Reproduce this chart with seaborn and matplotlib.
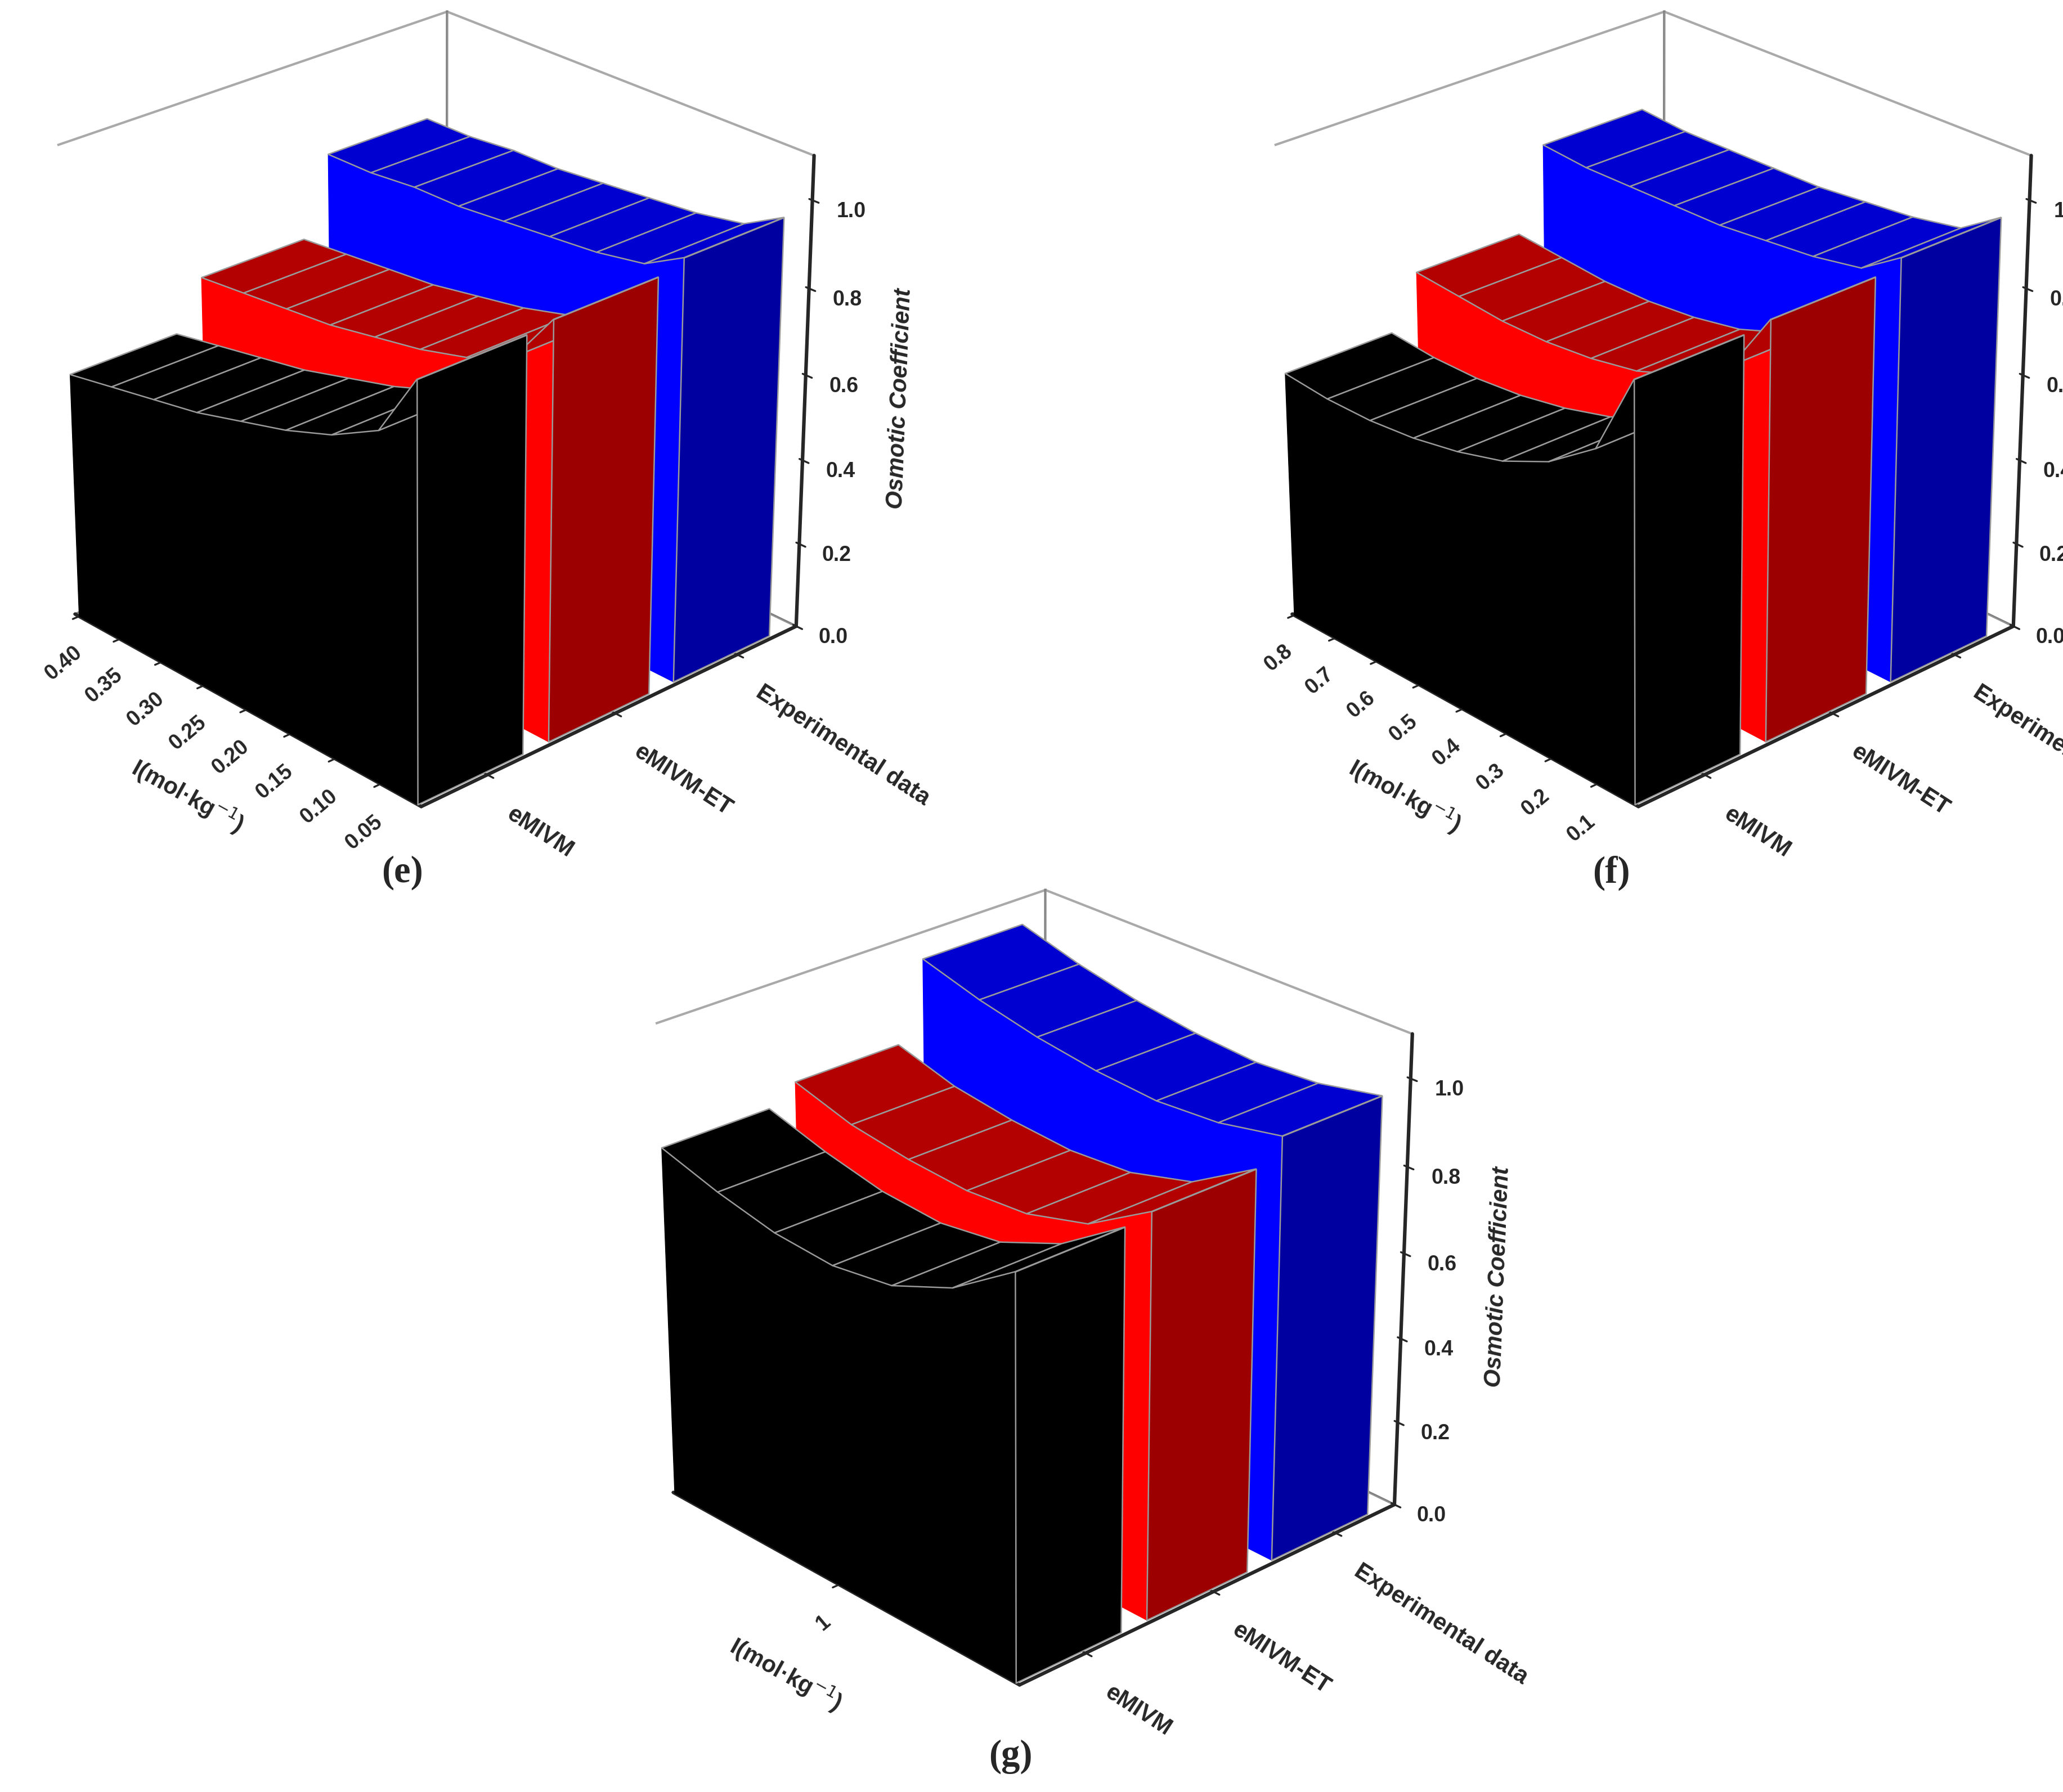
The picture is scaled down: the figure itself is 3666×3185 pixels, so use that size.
import numpy as np
import matplotlib
matplotlib.use("Agg")
import matplotlib.pyplot as plt
import seaborn as sns
from mpl_toolkits.mplot3d.art3d import Poly3DCollection

sns.set_style("white")
plt.rcParams['font.family'] = ['Liberation Sans', 'DejaVu Sans']

series = ["eMIVM", "eMIVM-ET", "Experimental data"]

I_e = [0.01, 0.05, 0.10, 0.15, 0.20, 0.25, 0.30, 0.35, 0.40]
e_emivm = [0.95, 0.80, 0.74, 0.70, 0.67, 0.64, 0.62, 0.60, 0.58]
e_et = [0.96, 0.84, 0.79, 0.76, 0.74, 0.72, 0.71, 0.70, 0.69]
e_exp = [0.98, 0.93, 0.91, 0.90, 0.89, 0.88, 0.88, 0.87, 0.87]
ticks_e = [0.05, 0.10, 0.15, 0.20, 0.25, 0.30, 0.35, 0.40]

I_f = [0.02, 0.1, 0.2, 0.3, 0.4, 0.5, 0.6, 0.7, 0.8]
f_emivm = [0.95, 0.76, 0.68, 0.63, 0.60, 0.58, 0.57, 0.57, 0.58]
f_et = [0.96, 0.82, 0.75, 0.71, 0.69, 0.68, 0.68, 0.69, 0.70]
f_exp = [0.98, 0.92, 0.90, 0.89, 0.88, 0.88, 0.88, 0.88, 0.89]
ticks_f = [0.1, 0.2, 0.3, 0.4, 0.5, 0.6, 0.7, 0.8]

I_g = [0.4, 0.6, 0.8, 1.0, 1.2, 1.4, 1.6]
g_emivm = [0.92, 0.82, 0.76, 0.74, 0.75, 0.78, 0.82]
g_et = [0.93, 0.84, 0.80, 0.79, 0.80, 0.82, 0.86]
g_exp = [0.98, 0.95, 0.94, 0.95, 0.97, 1.00, 1.04]
ticks_g = [1.0]
ticklabels_g = ["1"]

colors = {
    0: dict(side="#000000", top="#000000", end="#000000"),
    1: dict(side="#ff0000", top="#b30000", end="#9c0000"),
    2: dict(side="#0000ff", top="#0000d0", end="#0000a0"),
}

W0, W1 = -0.5, 0.3


def panel(fig, rect, I, vals, ticks, ticklabels, label, labpos):
    ax = fig.add_axes(rect, projection='3d', computed_zorder=False)
    I = np.array(I)
    for k in [2, 1, 0]:
        z = np.array(vals[k])
        y0, y1 = k + W0, k + W1
        c = colors[k]
        polys_top, polys_side = [], []
        for j in range(len(I) - 1):
            polys_top.append([(I[j], y0, z[j]), (I[j + 1], y0, z[j + 1]),
                              (I[j + 1], y1, z[j + 1]), (I[j], y1, z[j])])
            polys_side.append([(I[j], y0, 0), (I[j + 1], y0, 0),
                               (I[j + 1], y0, z[j + 1]), (I[j], y0, z[j])])
        end = [[(I[0], y0, 0), (I[0], y1, 0), (I[0], y1, z[0]), (I[0], y0, z[0])]]
        base = 10 * (3 - k)
        pc = Poly3DCollection(polys_side, facecolors=c["side"], edgecolors=c["side"], linewidths=0.3)
        pc.set_zorder(base)
        ax.add_collection3d(pc)
        pt = Poly3DCollection(polys_top, facecolors=c["top"], edgecolors="#9a9a9a", linewidths=0.6)
        pt.set_zorder(base + 1)
        ax.add_collection3d(pt)
        pe = Poly3DCollection(end, facecolors=c["end"], edgecolors="#9a9a9a", linewidths=0.6)
        pe.set_zorder(base + 2)
        ax.add_collection3d(pe)
    ax.set_xlim(max(I) + 0.005, min(I) - 0.01 * (max(I) - min(I)))
    ax.set_ylim(-0.5, 2.5)
    ax.set_zlim(0, 1.1)
    ax.view_init(elev=26, azim=-43)
    ax.set_box_aspect((1.0, 1.0, 1.0))
    for a in (ax.xaxis, ax.yaxis, ax.zaxis):
        a.pane.set_facecolor("white")
        a.pane.set_edgecolor("#555555")
        a.line.set_linewidth(1.5)
    ax.grid(False)
    try:
        ax.zaxis.set_ticks_position('upper')
        ax.zaxis.set_label_position('upper')
    except Exception:
        ax.zaxis._axinfo['juggled'] = (1, 2, 0)
    ax.set_xticks(ticks)
    ax.set_xticklabels(ticklabels, fontsize=9, fontweight='bold', rotation=40)
    ax.set_yticks([0, 1, 2])
    ax.set_yticklabels(series, fontsize=10, fontweight='bold', rotation=-33, ha='left', va='top')
    ax.set_zticks([0, 0.2, 0.4, 0.6, 0.8, 1.0])
    ax.set_zticklabels(["0.0", "0.2", "0.4", "0.6", "0.8", "1.0"], fontsize=9, fontweight='bold')
    ax.set_xlabel("I(mol·kg$^{-1}$)", fontsize=10, fontweight='bold', labelpad=6)
    ax.set_zlabel("Osmotic Coefficient", fontsize=10, fontweight='bold', fontstyle='italic', labelpad=4)
    ax.tick_params(axis='x', pad=0)
    ax.tick_params(axis='y', pad=0)
    ax.tick_params(axis='z', pad=2)
    fig.text(labpos[0], labpos[1], label, fontsize=16, fontweight='bold',
             family=['Liberation Serif', 'DejaVu Serif'], ha='center', va='center')
    return ax


fig = plt.figure(figsize=(12.22, 10.62), dpi=300)
panel(fig, [-0.03, 0.53, 0.47, 0.49], I_e, [e_emivm, e_et, e_exp], ticks_e,
      [f"{t:.2f}" for t in ticks_e], "(e)", (0.195, 0.513))
panel(fig, [0.56, 0.53, 0.47, 0.49], I_f, [f_emivm, f_et, f_exp], ticks_f,
      [f"{t:.1f}" for t in ticks_f], "(f)", (0.781, 0.513))
panel(fig, [0.26, 0.04, 0.47, 0.49], I_g, [g_emivm, g_et, g_exp], ticks_g,
      ticklabels_g, "(g)", (0.49, 0.02))
fig.savefig("out.png", dpi=300, facecolor="white")
